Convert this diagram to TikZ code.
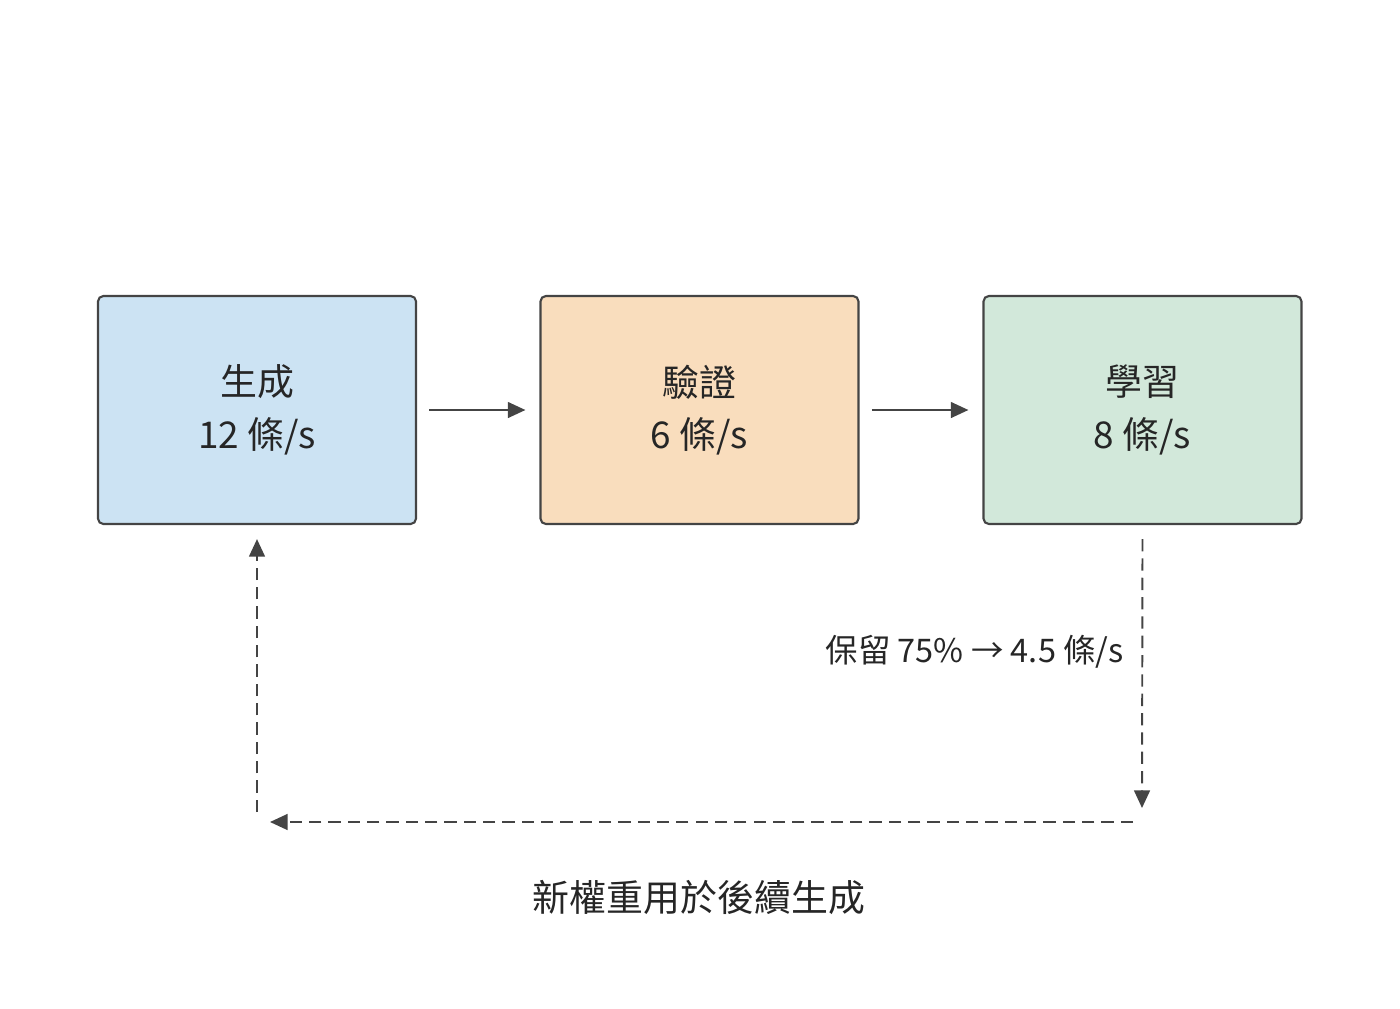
\documentclass[tikz,border=0pt]{standalone}
\usepackage{fontspec}
\setmainfont{Noto Sans CJK TC}
\usetikzlibrary{arrows.meta, positioning}
\definecolor{genblue}{HTML}{CCE3F3}
\definecolor{verorange}{HTML}{F9DDBD}
\definecolor{learngreen}{HTML}{D2E8DA}
\definecolor{edgegray}{HTML}{444444}

\begin{document}
\begin{tikzpicture}[
    x=0.02cm, y=-0.02cm,
    stage/.style={rectangle, draw=edgegray, line width=1.2pt, rounded corners=3pt, minimum width=6.36cm, minimum height=4.56cm, align=center, font=\fontsize{21}{30}\selectfont, text=black!85},
    arrow/.style={-{Triangle[length=10pt, width=9pt]}, line width=1.1pt, draw=edgegray},
    dasharrow/.style={arrow, dash pattern=on 7pt off 4pt},
    label/.style={font=\fontsize{18.5}{22}\selectfont, text=black!85}
]
\useasboundingbox (0,0) rectangle (1400,1008);

% Stages
\node[stage, fill=genblue] (gen) at (257,410) {生成\\12 條/s};
\node[stage, fill=verorange] (verify) at (699.5,410) {驗證\\6 條/s};
\node[stage, fill=learngreen] (learn) at (1142.5,410) {學習\\8 條/s};

% Forward flow
\draw[arrow] ([xshift=7pt]gen.east) -- ([xshift=-8pt]verify.west);
\draw[arrow] ([xshift=7pt]verify.east) -- ([xshift=-8pt]learn.west);

% Feedback loop
\coordinate (downend) at (1142,808);
\coordinate (leftstart) at (1133,822);
\coordinate (leftend) at (270,822);
\coordinate (upstart) at (257,812);
\draw[dasharrow] ([yshift=-8pt]learn.south) -- (downend);
\draw[dasharrow] (leftstart) -- (leftend);
\draw[dasharrow] (upstart) -- ([yshift=-8pt]gen.south);

% Labels
\node[label, anchor=east] (keep) at (1130,652) {保留 75\% → 4.5 條/s};
\node[label, font=\fontsize{21}{24}\selectfont] (reuse) at (699,897) {新權重用於後續生成};
\end{tikzpicture}
\end{document}
